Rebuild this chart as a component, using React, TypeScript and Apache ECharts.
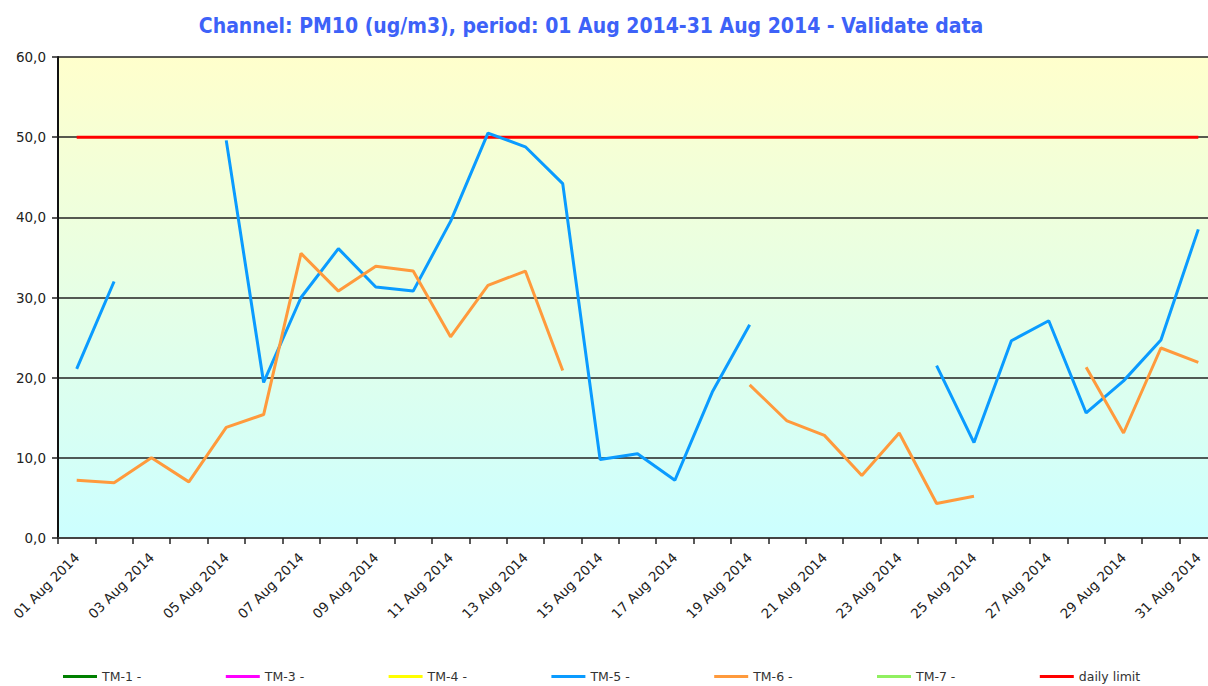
import React, { useEffect, useRef } from "react";
import * as echarts from "echarts";

const days: string[] = [
  "01 Aug 2014", "02 Aug 2014", "03 Aug 2014", "04 Aug 2014", "05 Aug 2014",
  "06 Aug 2014", "07 Aug 2014", "08 Aug 2014", "09 Aug 2014", "10 Aug 2014",
  "11 Aug 2014", "12 Aug 2014", "13 Aug 2014", "14 Aug 2014", "15 Aug 2014",
  "16 Aug 2014", "17 Aug 2014", "18 Aug 2014", "19 Aug 2014", "20 Aug 2014",
  "21 Aug 2014", "22 Aug 2014", "23 Aug 2014", "24 Aug 2014", "25 Aug 2014",
  "26 Aug 2014", "27 Aug 2014", "28 Aug 2014", "29 Aug 2014", "30 Aug 2014",
  "31 Aug 2014",
];

const tm5: (number | null)[] = [
  21.1, 32.0, null, null, 49.6, 19.4, 30.0, 36.1, 31.3, 30.8,
  39.5, 50.5, 48.8, 44.2, 9.8, 10.5, 7.2, 18.2, 26.6, null,
  null, null, null, 21.5, 11.9, 24.6, 27.1, 15.6, 19.6, 24.7,
  38.5,
];

const tm6: (number | null)[] = [
  7.2, 6.9, 10.0, 7.0, 13.8, 15.4, 35.5, 30.8, 33.9, 33.3,
  25.1, 31.5, 33.3, 20.9, null, null, null, null, 19.1, 14.6,
  12.8, 7.8, 13.1, 4.3, 5.2, null, null, 21.3, 13.1, 23.7,
  21.9,
];

const dailyLimit: number[] = days.map(() => 50);

const legendNames: string[] = ["TM-1 -", "TM-3 -", "TM-4 -", "TM-5 -", "TM-6 -", "TM-7 -", "daily limit"];
const legendColors: string[] = ["#008000", "#FF00FF", "#FFFF00", "#0A9BFF", "#FF9A3C", "#90F060", "#FF0000"];

const titleText = "Channel: PM10 (ug/m3), period: 01 Aug 2014-31 Aug 2014 - Validate data";

export default function App() {
  const ref = useRef<HTMLDivElement>(null);
  useEffect(() => {
    if (!ref.current) return;
    const chart = echarts.init(ref.current, null, { renderer: "svg" });
    const dataFor: Record<string, (number | null)[]> = {
      "TM-5 -": tm5,
      "TM-6 -": tm6,
      "daily limit": dailyLimit,
    };
    const series = legendNames.map((name, i) => ({
      name,
      type: "line",
      data: dataFor[name] || [],
      symbol: "none",
      showSymbol: false,
      connectNulls: false,
      z: name === "daily limit" ? 3 : 4,
      lineStyle: { color: legendColors[i], width: 3 },
      itemStyle: { color: legendColors[i] },
    }));
    const legends = legendNames.map((name, i) => ({
      data: [name],
      left: 63 + 162.8 * i,
      top: 670,
      icon: "rect",
      itemWidth: 34,
      itemHeight: 3,
      itemGap: 5,
      padding: 0,
      textStyle: {
        fontFamily: "DejaVu Sans",
        fontSize: 12.5,
        color: "#333333",
      },
    }));
    chart.setOption({
      animation: false,
      backgroundColor: "#ffffff",
      title: {
        text: titleText,
        left: 586,
        textAlign: "center",
        top: 10,
        textStyle: {
          fontFamily: "DejaVu Sans Condensed",
          fontWeight: "bold",
          fontSize: 21,
          color: "#3D62F8",
        },
      },
      grid: {
        left: 58,
        right: 0,
        top: 57,
        bottom: 148,
        show: true,
        borderWidth: 0,
        backgroundColor: {
          type: "linear",
          x: 0, y: 0, x2: 0, y2: 1,
          colorStops: [
            { offset: 0, color: "#FFFFCC" },
            { offset: 1, color: "#CCFFFF" },
          ],
        },
      },
      legend: legends,
      xAxis: {
        type: "category",
        data: days,
        boundaryGap: true,
        axisLine: { show: true, lineStyle: { color: "#444444", width: 2 } },
        axisTick: { show: true, interval: 0, length: 6, lineStyle: { color: "#222222", width: 1.5 } },
        axisLabel: {
          interval: 1,
          rotate: 45,
          margin: 17,
          fontFamily: "DejaVu Sans",
          fontSize: 13.5,
          color: "#222222",
        },
        splitLine: { show: false },
      },
      yAxis: {
        type: "value",
        min: 0,
        max: 60,
        interval: 10,
        axisLine: { show: true, lineStyle: { color: "#111111", width: 2 } },
        axisTick: { show: true, length: 6, lineStyle: { color: "#222222", width: 1.5 } },
        axisLabel: {
          margin: 12,
          fontFamily: "DejaVu Sans",
          fontSize: 13.5,
          color: "#222222",
          formatter: (v: number) => v.toFixed(1).replace(".", ","),
        },
        splitLine: { show: true, lineStyle: { color: "#222222", width: 1.5 } },
      },
      series,
    });
    return () => chart.dispose();
  }, []);
  return (
    <div style={{ position: "absolute", left: 0, top: 0, width: 1208, height: 686, overflow: "hidden" }}>
      <div ref={ref} style={{ width: 1217, height: 686 }} />
    </div>
  );
}
